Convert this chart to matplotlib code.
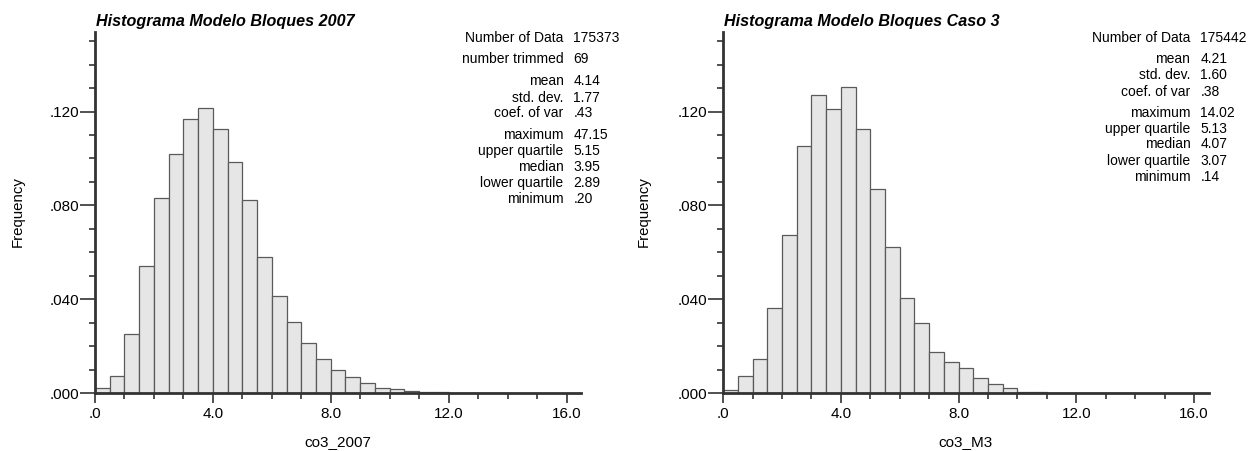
import numpy as np
import matplotlib.pyplot as plt
from matplotlib.ticker import MultipleLocator

plt.rcParams['font.family'] = ['Liberation Sans', 'DejaVu Sans']

# bins de 0.5 desde 0
bin_w = 0.5
freq_2007 = [0.0024, 0.0074, 0.0253, 0.0542, 0.0832, 0.1020, 0.1169, 0.1217,
             0.1126, 0.0987, 0.0822, 0.0581, 0.0415, 0.0302, 0.0214, 0.0145,
             0.0101, 0.0070, 0.0044, 0.0024, 0.0019, 0.0011, 0.0007, 0.0006,
             0.0002, 0.0002, 0.0001, 0.0001]
freq_m3 = [0.0014, 0.0072, 0.0146, 0.0364, 0.0675, 0.1055, 0.1272, 0.1211,
           0.1304, 0.1125, 0.0868, 0.0625, 0.0406, 0.0298, 0.0175, 0.0132,
           0.0107, 0.0064, 0.0040, 0.0021, 0.0005, 0.0004, 0.0003, 0.0002,
           0.0001, 0.0001, 0.0001, 0.0001]

titles = ["Histograma Modelo Bloques 2007", "Histograma Modelo Bloques Caso 3"]
xlabels = ["co3_2007", "co3_M3"]

stats_labels_2007 = ["Number of Data", "number trimmed", "mean", "std. dev.", "coef. of var",
                     "maximum", "upper quartile", "median", "lower quartile", "minimum"]
stats_values_2007 = ["175373", "69", "4.14", "1.77", ".43", "47.15", "5.15", "3.95", "2.89", ".20"]
stats_y_2007 = [37.7, 59.3, 81.0, 97.7, 113.3, 135.0, 150.7, 166.7, 182.7, 198.7]

stats_labels_m3 = ["Number of Data", "mean", "std. dev.", "coef. of var",
                   "maximum", "upper quartile", "median", "lower quartile", "minimum"]
stats_values_m3 = ["175442", "4.21", "1.60", ".38", "14.02", "5.13", "4.07", "3.07", ".14"]
stats_y_m3 = [37.7, 59.3, 75.3, 91.7, 113.3, 129.3, 144.3, 160.7, 176.7]

yticks = [0.0, 0.04, 0.08, 0.12]
ytick_labels = [".000", ".040", ".080", ".120"]
xticks = [0, 4, 8, 12, 16]
xtick_labels = [".0", "4.0", "8.0", "12.0", "16.0"]

W, H = 1249, 451
fig = plt.figure(figsize=(W / 100, H / 100), dpi=100)

panels = [
    (freq_2007, [94.9, 581.3], stats_labels_2007, stats_values_2007, stats_y_2007, 563.5, 573.3, 17.5),
    (freq_m3, [723.1, 1208.8], stats_labels_m3, stats_values_m3, stats_y_m3, 1190.4, 1200.4, 644.0),
]

axis_col = '#333333'
for i, (freq, xr, slab, sval, sy, lab_x, val_x, ylab_x) in enumerate(panels):
    ax = fig.add_axes([xr[0] / W, (H - 393.3) / H, (xr[1] - xr[0]) / W, (393.3 - 31.7) / H])
    edges = np.arange(len(freq)) * bin_w
    ax.bar(edges, freq, width=bin_w, align='edge', color='#e6e6e6',
           edgecolor='#5a5a5a', linewidth=0.9, zorder=2)
    ax.set_xlim(0, 16.5)
    ax.set_ylim(0, 0.154)
    for s in ['top', 'right']:
        ax.spines[s].set_visible(False)
    for s in ['left', 'bottom']:
        ax.spines[s].set_linewidth(2.0)
        ax.spines[s].set_color(axis_col)
        ax.spines[s].set_zorder(3)
    ax.set_xticks(xticks)
    ax.set_xticklabels(xtick_labels)
    ax.set_yticks(yticks)
    ax.set_yticklabels(ytick_labels)
    ax.xaxis.set_minor_locator(MultipleLocator(1.0))
    ax.yaxis.set_minor_locator(MultipleLocator(0.01))
    ax.tick_params(axis='y', which='major', length=10.5, width=1.2, color=axis_col,
                   labelsize=11, pad=1.0)
    ax.tick_params(axis='y', which='minor', length=4.5, width=1.2, color=axis_col)
    ax.tick_params(axis='x', which='major', length=7.5, width=1.2, color=axis_col,
                   labelsize=11, pad=2.5)
    ax.tick_params(axis='x', which='minor', length=4.5, width=1.2, color=axis_col)

    fig.text(xr[0] / W + 0.001, 1 - 21.7 / H, titles[i], fontsize=11.6, fontweight='bold',
             fontstyle='italic', ha='left', va='center')
    fig.text(ylab_x / W, 1 - 211.7 / H, "Frequency", rotation=90, fontsize=10.8,
             ha='center', va='center')
    fig.text((xr[0] + xr[1]) / 2 / W, 1 - 441.7 / H, xlabels[i], fontsize=11,
             ha='center', va='center')
    for lab, val, y in zip(slab, sval, sy):
        fig.text(lab_x / W, 1 - y / H, lab, fontsize=10, ha='right', va='center')
        fig.text(val_x / W, 1 - y / H, val, fontsize=10, ha='left', va='center')

fig.savefig("out.png", dpi=100)
